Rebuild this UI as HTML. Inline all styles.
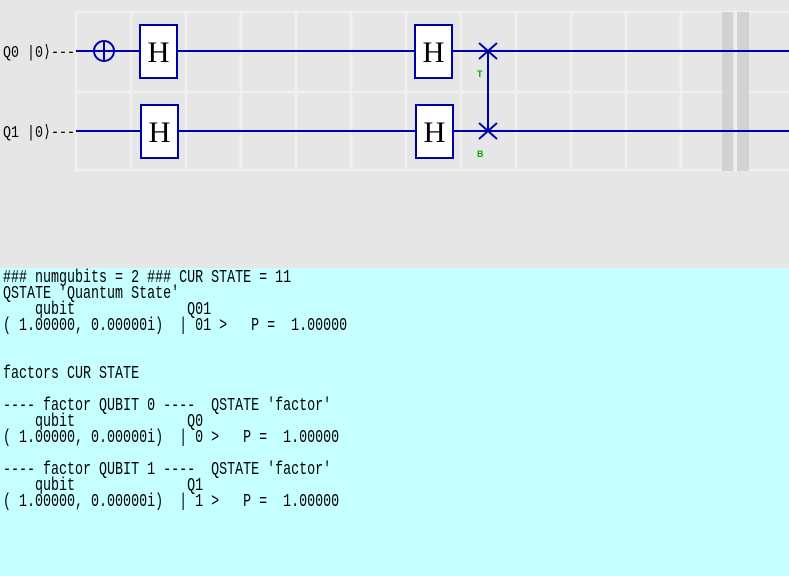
<!DOCTYPE html>
<html><head><meta charset="utf-8"><style>
body{margin:0;width:789px;height:576px;overflow:hidden;background:#e6e6e6;position:relative;font-family:"Liberation Mono",monospace}
#cy{position:absolute;left:0;top:268px;width:789px;height:308px;background:#c6ffff}
.t{position:absolute;left:3px;white-space:pre;font-size:18px;line-height:16px;color:#000;transform:scaleX(0.741);transform-origin:0 0;font-family:"Liberation Mono",monospace}
</style></head><body>
<svg width="789" height="268" style="position:absolute;left:0;top:0">
<g fill="none" stroke="#f0f0f0" stroke-width="2.5">
<rect x="76" y="12" width="55" height="80"/><rect x="131" y="12" width="55" height="80"/><rect x="186" y="12" width="55" height="80"/><rect x="241" y="12" width="55" height="80"/><rect x="296" y="12" width="55" height="80"/><rect x="351" y="12" width="55" height="80"/><rect x="406" y="12" width="55" height="80"/><rect x="461" y="12" width="55" height="80"/><rect x="516" y="12" width="55" height="80"/><rect x="571" y="12" width="55" height="80"/><rect x="626" y="12" width="55" height="80"/><rect x="681" y="12" width="55" height="80"/><rect x="736" y="12" width="55" height="80"/>
<rect x="76" y="92" width="55" height="78"/><rect x="131" y="92" width="55" height="78"/><rect x="186" y="92" width="55" height="78"/><rect x="241" y="92" width="55" height="78"/><rect x="296" y="92" width="55" height="78"/><rect x="351" y="92" width="55" height="78"/><rect x="406" y="92" width="55" height="78"/><rect x="461" y="92" width="55" height="78"/><rect x="516" y="92" width="55" height="78"/><rect x="571" y="92" width="55" height="78"/><rect x="626" y="92" width="55" height="78"/><rect x="681" y="92" width="55" height="78"/><rect x="736" y="92" width="55" height="78"/>
</g>
<rect x="722" y="12" width="11" height="159" fill="#d2d2d2"/>
<rect x="737" y="12" width="12" height="159" fill="#d2d2d2"/>
<g stroke="#0000aa" stroke-width="2" fill="none">
<line x1="76" y1="51" x2="789" y2="51"/><line x1="76" y1="131" x2="789" y2="131"/>
<circle cx="104" cy="51" r="10"/><line x1="104" y1="41" x2="104" y2="61"/>
<line x1="488" y1="51" x2="488" y2="131"/>
<line x1="479" y1="43" x2="497" y2="59"/><line x1="497" y1="43" x2="479" y2="59"/>
<line x1="479" y1="123" x2="497" y2="139"/><line x1="497" y1="123" x2="479" y2="139"/>
</g>
<g stroke="#0000aa" stroke-width="2" fill="#fff">
<rect x="140" y="25" width="37" height="53"/><rect x="141" y="105" width="37" height="53"/>
<rect x="415" y="25" width="37" height="53"/><rect x="416" y="105" width="37" height="53"/>
</g>
<g font-family="Liberation Serif,serif" font-size="30" text-anchor="middle">
<text x="158.5" y="62" textLength="22" lengthAdjust="spacingAndGlyphs">H</text><text x="159.5" y="142" textLength="22" lengthAdjust="spacingAndGlyphs">H</text><text x="433.5" y="62" textLength="22" lengthAdjust="spacingAndGlyphs">H</text><text x="434.5" y="142" textLength="22" lengthAdjust="spacingAndGlyphs">H</text>
</g>
<g font-family="Liberation Sans,sans-serif" font-size="9" font-weight="bold" fill="#00aa00">
<text x="477" y="77">T</text><text x="477" y="157">B</text>
</g>
<g font-family="Liberation Mono,monospace" font-size="17" fill="#000">
<text x="3" y="57" textLength="72" lengthAdjust="spacingAndGlyphs">Q0 |0⟩---</text>
<text x="3" y="137" textLength="72" lengthAdjust="spacingAndGlyphs">Q1 |0⟩---</text>
</g>
</svg>
<div id="cy"></div>
<div class="t" style="top:270px">### numgubits = 2 ### CUR STATE = 11
QSTATE 'Quantum State'
    qubit              Q01
( 1.00000, 0.00000i)  | 01 >   P =  1.00000


factors CUR STATE

---- factor QUBIT 0 ----  QSTATE 'factor'
    qubit              Q0
( 1.00000, 0.00000i)  | 0 >   P =  1.00000

---- factor QUBIT 1 ----  QSTATE 'factor'
    qubit              Q1
( 1.00000, 0.00000i)  | 1 >   P =  1.00000</div>
</body></html>
